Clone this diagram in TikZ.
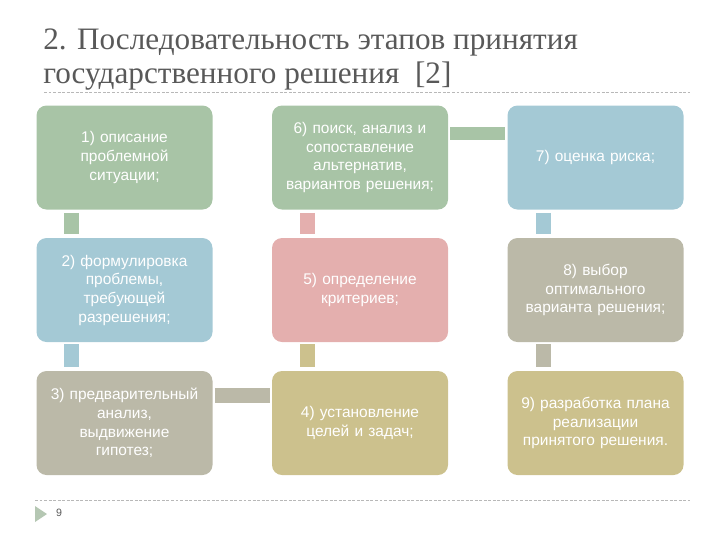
\documentclass[tikz,border=0pt]{standalone}
\usepackage{fontspec}
\setmainfont{Liberation Serif}
\newfontfamily\boxfont{Liberation Sans}
\usetikzlibrary{calc}
\definecolor{cgreen}{HTML}{A8C4A6}
\definecolor{cblue}{HTML}{A4C9D5}
\definecolor{cpink}{HTML}{E4AFAE}
\definecolor{cgray}{HTML}{BBB9A8}
\definecolor{ctan}{HTML}{CCC18D}
\definecolor{ctitle}{HTML}{595959}
\definecolor{cline}{HTML}{B8B8B8}
\definecolor{ctri}{HTML}{B5C7B3}
\begin{document}
\begin{tikzpicture}[x=0.75pt,y=-0.75pt,
  stage/.style={rounded corners=7.5pt, minimum width=131.25pt, minimum height=78pt,
    inner sep=2pt, align=center, text=white, text width=128pt,
    font=\boxfont\fontsize{11.6}{14}\selectfont},
  conn/.style={line width=11.5pt},
  sep/.style={cline, dashed, line width=0.6pt, dash pattern=on 2.2pt off 1.2pt}]
\useasboundingbox (0,0) rectangle (720,540);
% title
\node[anchor=base west, inner sep=0, text=ctitle, font=\fontsize{23.4}{27}\selectfont] (t1) at (43,49) {2. Последовательность этапов принятия};
\node[anchor=base west, inner sep=0, text=ctitle, font=\fontsize{23.4}{27}\selectfont] (t2) at (43,83) {государственного решения~ [2]};
\coordinate (l1a) at (44,92);
\coordinate (l1b) at (690,92);
\draw[sep] (l1a) -- (l1b);
% boxes
\node[stage, fill=cgreen] (b1) at (124.5,157.5) {1) описание\\проблемной\\ситуации;};
\node[stage, fill=cgreen] (b6) at (360,157.5) {6) поиск, анализ и\\сопоставление\\альтернатив,\\вариантов решения;};
\node[stage, fill=cblue] (b7) at (595.5,157.5) {7) оценка риска;};
\node[stage, fill=cblue] (b2) at (124.5,290) {2) формулировка\\проблемы,\\требующей\\разрешения;};
\node[stage, fill=cpink] (b5) at (360,290) {5) определение\\критериев;};
\node[stage, fill=cgray] (b8) at (595.5,290) {8) выбор\\оптимального\\варианта решения;};
\node[stage, fill=cgray] (b3) at (124.5,423) {3) предварительный\\анализ,\\выдвижение\\гипотез;};
\node[stage, fill=ctan] (b4) at (360,423) {4) установление\\целей и задач;};
\node[stage, fill=ctan] (b9) at (595.5,423) {9) разработка плана\\реализации\\принятого решения.};
% vertical connectors
\draw[conn, cgreen] ($(b1.south west)+(35.5,3)$) -- ($(b2.north west)+(35.5,-4)$);
\draw[conn, cblue] ($(b2.south west)+(35.5,2)$) -- ($(b3.north west)+(35.5,-4)$);
\draw[conn, ctan] ($(b5.south west)+(36,2)$) -- ($(b4.north west)+(36,-4)$);
\draw[conn, cpink] ($(b6.south west)+(36,3)$) -- ($(b5.north west)+(36,-4)$);
\draw[conn, cblue] ($(b7.south west)+(36,3)$) -- ($(b8.north west)+(36,-4)$);
\draw[conn, cgray] ($(b8.south west)+(36,2)$) -- ($(b9.north west)+(36,-4)$);
% horizontal connectors
\draw[conn, line width=10pt, cgreen] ($(b6.north east)+(2,28)$) -- ($(b7.north west)+(-2,28)$);
\draw[conn, cgray] ($(b3.north east)+(2,25)$) -- ($(b4.north west)+(-2,25)$);
% footer
\coordinate (l2a) at (35,500);
\coordinate (l2b) at (690,500);
\draw[sep] (l2a) -- (l2b);
\fill[ctri] (35,506) -- (47,514) -- (35,522) -- cycle;
\node[anchor=center, inner sep=0, text=ctitle, font=\boxfont\fontsize{8}{9}\selectfont] (pg) at (59,513) {9};
\end{tikzpicture}
\end{document}
